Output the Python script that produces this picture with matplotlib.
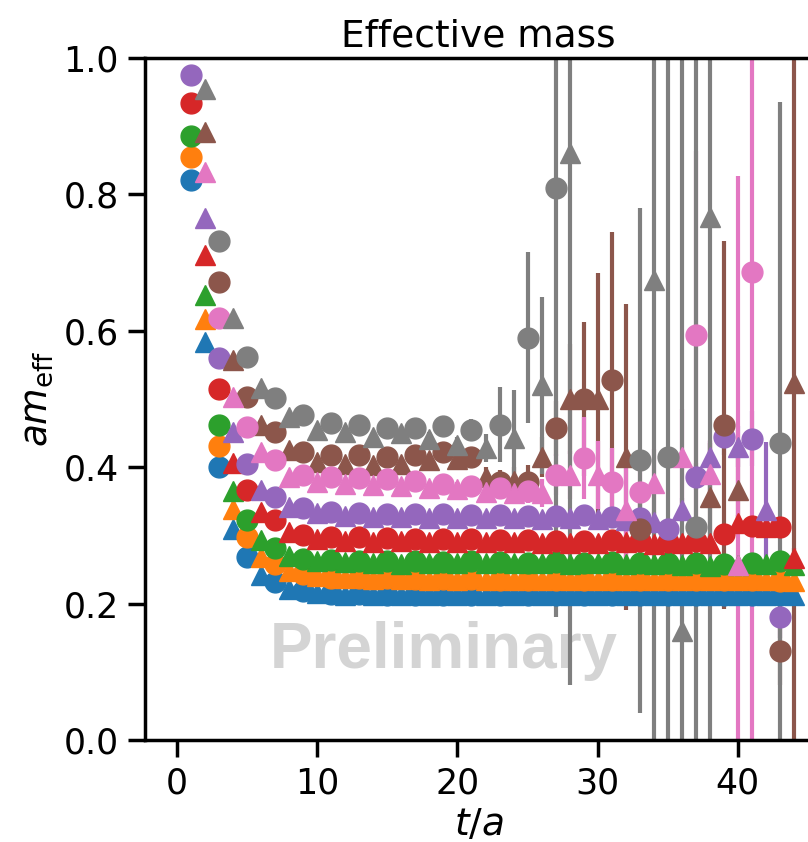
import numpy as np
import matplotlib
matplotlib.use('Agg')
import matplotlib.pyplot as plt

nan = np.nan
t = np.arange(1, 45)

# effective mass per channel (circles at odd t, triangles at even t)
blue = [0.821, 0.584, 0.400, 0.310, 0.268, 0.242, 0.232, 0.222, 0.218, 0.215,
        0.214, 0.213, 0.214, 0.213, 0.213, 0.212, 0.213, 0.213, 0.212, 0.213,
        0.213, 0.212, 0.213, 0.212, 0.213, 0.212, 0.213, 0.212, 0.213, 0.213,
        0.212, 0.213, 0.212, 0.213, 0.212, 0.213, 0.212, 0.213, 0.212, 0.213,
        0.212, 0.213, 0.212, 0.213]
orange = [0.855, 0.617, 0.431, 0.338, 0.298, 0.268, 0.258, 0.248, 0.243, 0.240,
          0.238, 0.237, 0.238, 0.236, 0.237, 0.236, 0.236, 0.235, 0.236, 0.235,
          0.236, 0.235, 0.235, 0.234, 0.235, 0.235, 0.234, 0.235, 0.235, 0.234,
          0.235, 0.234, 0.235, 0.234, 0.234, 0.235, 0.234, 0.235, 0.234, 0.235,
          0.234, 0.235, 0.233, 0.233]
green = [0.886, 0.652, 0.462, 0.365, 0.323, 0.293, 0.281, 0.270, 0.266, 0.262,
         0.264, 0.261, 0.263, 0.260, 0.262, 0.258, 0.262, 0.259, 0.261, 0.260,
         0.262, 0.259, 0.261, 0.259, 0.260, 0.259, 0.261, 0.258, 0.260, 0.259,
         0.261, 0.258, 0.260, 0.258, 0.259, 0.257, 0.259, 0.255, 0.258, 0.257,
         0.260, 0.258, 0.262, 0.257]
red = [0.934, 0.711, 0.515, 0.406, 0.366, 0.335, 0.323, 0.305, 0.300, 0.294,
       0.298, 0.292, 0.297, 0.291, 0.296, 0.292, 0.295, 0.291, 0.295, 0.290,
       0.294, 0.290, 0.293, 0.290, 0.293, 0.289, 0.292, 0.289, 0.292, 0.289,
       0.293, 0.290, 0.292, 0.288, 0.291, 0.289, 0.292, 0.289, 0.302, 0.318,
       0.314, 0.312, 0.313, 0.267]
purple = [0.975, 0.765, 0.560, 0.452, 0.405, 0.366, 0.357, 0.342, 0.340, 0.333,
          0.335, 0.328, 0.333, 0.327, 0.332, 0.327, 0.331, 0.326, 0.331, 0.326,
          0.330, 0.325, 0.330, 0.326, 0.329, 0.324, 0.328, 0.325, 0.330, 0.324,
          0.327, 0.322, 0.326, 0.320, 0.310, 0.337, 0.386, 0.415, 0.444, 0.430,
          0.442, 0.337, 0.180, nan]
brown = [nan, 0.892, 0.671, 0.557, 0.503, 0.462, 0.452, 0.425, 0.422, 0.408,
         0.418, 0.405, 0.418, 0.403, 0.415, 0.405, 0.418, 0.410, 0.422, 0.412,
         0.415, 0.386, 0.378, 0.380, 0.378, 0.415, 0.457, 0.500, 0.500, 0.500,
         0.528, 0.415, 0.310, nan, nan, nan, nan, 0.356, 0.462, 0.366,
         nan, nan, 0.130, 0.523]
pink = [nan, 0.833, 0.619, 0.503, 0.459, 0.422, 0.410, 0.385, 0.388, 0.378,
        0.386, 0.376, 0.384, 0.374, 0.382, 0.372, 0.380, 0.370, 0.376, 0.368,
        0.372, 0.364, 0.370, 0.362, 0.365, 0.362, 0.389, 0.389, 0.413, 0.389,
        0.378, 0.337, 0.364, 0.377, nan, 0.415, 0.594, 0.390, nan, 0.257,
        0.686, nan, nan, nan]
gray = [nan, 0.955, 0.732, 0.619, 0.562, 0.516, 0.501, 0.474, 0.476, 0.454,
        0.465, 0.452, 0.462, 0.445, 0.458, 0.450, 0.458, 0.442, 0.460, 0.433,
        0.455, 0.428, 0.462, 0.443, 0.590, 0.520, 0.810, 0.860, nan, nan,
        nan, nan, 0.410, 0.675, 0.415, 0.160, 0.312, 0.767, nan, nan,
        nan, nan, 0.435, nan]

# statistical errors
blue_err = [0.001, 0.001, 0.001, 0.001, 0.001, 0.001, 0.001, 0.001, 0.001, 0.001,
            0.001, 0.001, 0.001, 0.001, 0.001, 0.001, 0.002, 0.002, 0.002, 0.002,
            0.002, 0.002, 0.002, 0.002, 0.002, 0.002, 0.002, 0.003, 0.003, 0.003,
            0.003, 0.003, 0.003, 0.003, 0.003, 0.004, 0.004, 0.004, 0.004, 0.004,
            0.004, 0.004, 0.005, 0.005]
orange_err = [0.001, 0.001, 0.001, 0.001, 0.001, 0.001, 0.001, 0.001, 0.001, 0.001,
              0.001, 0.001, 0.001, 0.002, 0.002, 0.002, 0.002, 0.002, 0.002, 0.002,
              0.002, 0.002, 0.003, 0.003, 0.003, 0.003, 0.003, 0.003, 0.003, 0.003,
              0.004, 0.004, 0.004, 0.004, 0.004, 0.004, 0.005, 0.005, 0.005, 0.005,
              0.005, 0.006, 0.006, 0.006]
green_err = [0.001, 0.001, 0.001, 0.001, 0.001, 0.001, 0.001, 0.001, 0.001, 0.002,
             0.002, 0.002, 0.002, 0.002, 0.002, 0.002, 0.002, 0.003, 0.003, 0.003,
             0.003, 0.003, 0.003, 0.003, 0.004, 0.004, 0.004, 0.004, 0.004, 0.005,
             0.005, 0.005, 0.005, 0.005, 0.006, 0.006, 0.006, 0.006, 0.007, 0.007,
             0.007, 0.008, 0.008, 0.008]
red_err = [0.001, 0.001, 0.001, 0.001, 0.001, 0.001, 0.001, 0.002, 0.002, 0.002,
           0.002, 0.002, 0.002, 0.003, 0.003, 0.003, 0.003, 0.003, 0.004, 0.004,
           0.004, 0.004, 0.005, 0.005, 0.005, 0.005, 0.006, 0.006, 0.006, 0.007,
           0.007, 0.007, 0.008, 0.008, 0.009, 0.009, 0.010, 0.010, 0.011, 0.012,
           0.012, 0.013, 0.014, 0.015]
purple_err = [0.001, 0.001, 0.001, 0.001, 0.001, 0.001, 0.002, 0.002, 0.002, 0.002,
              0.002, 0.003, 0.003, 0.003, 0.003, 0.004, 0.004, 0.004, 0.005, 0.005,
              0.005, 0.006, 0.006, 0.007, 0.007, 0.008, 0.008, 0.009, 0.009, 0.010,
              0.011, 0.012, 0.013, 0.014, 0.016, 0.018, 0.020, 0.023, 0.026, 0.030,
              0.040, 0.100, 0.030, nan]
brown_err = [nan, 0.001, 0.001, 0.001, 0.002, 0.002, 0.002, 0.003, 0.003, 0.004,
             0.004, 0.005, 0.005, 0.006, 0.006, 0.007, 0.008, 0.009, 0.010, 0.011,
             0.012, 0.015, 0.018, 0.020, 0.025, 0.030, 0.040, 0.080, 0.113, 0.185,
             0.217, 0.225, 0.050, nan, nan, nan, nan, 0.080, 0.270, 0.060,
             nan, nan, 0.050, 0.600]
pink_err = [nan, 0.001, 0.001, 0.001, 0.002, 0.002, 0.002, 0.003, 0.003, 0.003,
            0.004, 0.004, 0.005, 0.005, 0.006, 0.006, 0.007, 0.008, 0.009, 0.010,
            0.011, 0.012, 0.014, 0.016, 0.018, 0.020, 0.030, 0.035, 0.060, 0.050,
            0.050, 0.080, 0.060, 0.050, nan, 0.070, 0.270, 0.050, nan, 0.570,
            0.800, nan, nan, nan]
gray_err = [nan, 0.001, 0.002, 0.002, 0.002, 0.003, 0.003, 0.004, 0.004, 0.005,
            0.005, 0.006, 0.006, 0.007, 0.008, 0.008, 0.009, 0.010, 0.011, 0.012,
            0.015, 0.020, 0.055, 0.070, 0.125, 0.130, 0.630, 0.780, nan, nan,
            nan, nan, 0.370, 0.800, 0.700, 0.900, 0.800, 0.900, nan, nan,
            nan, nan, 0.500, nan]

series = [blue, orange, green, red, purple, brown, pink, gray]
errors = [blue_err, orange_err, green_err, red_err, purple_err, brown_err, pink_err, gray_err]
colors = ['tab:blue', 'tab:orange', 'tab:green', 'tab:red',
          'tab:purple', 'tab:brown', 'tab:pink', 'tab:gray']

plt.rcParams.update({'font.size': 25, 'axes.linewidth': 2.5,
                     'xtick.major.size': 12, 'ytick.major.size': 12,
                     'xtick.major.width': 2.5, 'ytick.major.width': 2.5})

fig = plt.figure(figsize=(8.08, 8.42), dpi=100)
ax = fig.add_axes([145/808, 102/842, 667/808, 682/842])

odd = t % 2 == 1
for y, e, c in zip(series, errors, colors):
    y = np.array(y); e = np.array(e)
    ax.errorbar(t[odd], y[odd], yerr=e[odd], fmt='o', color=c, ms=15,
                elinewidth=3, capsize=0)
    ax.errorbar(t[~odd], y[~odd], yerr=e[~odd], fmt='^', color=c, ms=15,
                elinewidth=3, capsize=0)

ax.text(19.0, 0.13, 'Preliminary', fontsize=46, fontweight='bold',
        family='Liberation Sans', color='#d4d4d4', ha='center', va='center',
        zorder=0)

ax.set_xlim(-2.3, 45.3)
ax.set_ylim(0, 1)
ax.set_xticks([0, 10, 20, 30, 40])
ax.set_yticks([0.0, 0.2, 0.4, 0.6, 0.8, 1.0])
ax.set_yticklabels(['0.0', '0.2', '0.4', '0.6', '0.8', '1.0'])
ax.tick_params(labelsize=25, pad=7)
ax.spines['right'].set_visible(False)
ax.set_xlabel('$t/a$', fontsize=27, labelpad=5)
ax.set_ylabel(r'$am_{\rm eff}$', fontsize=27, labelpad=6)
ax.set_title('Effective mass', fontsize=27, pad=8)

fig.savefig('out.png', dpi=100)
